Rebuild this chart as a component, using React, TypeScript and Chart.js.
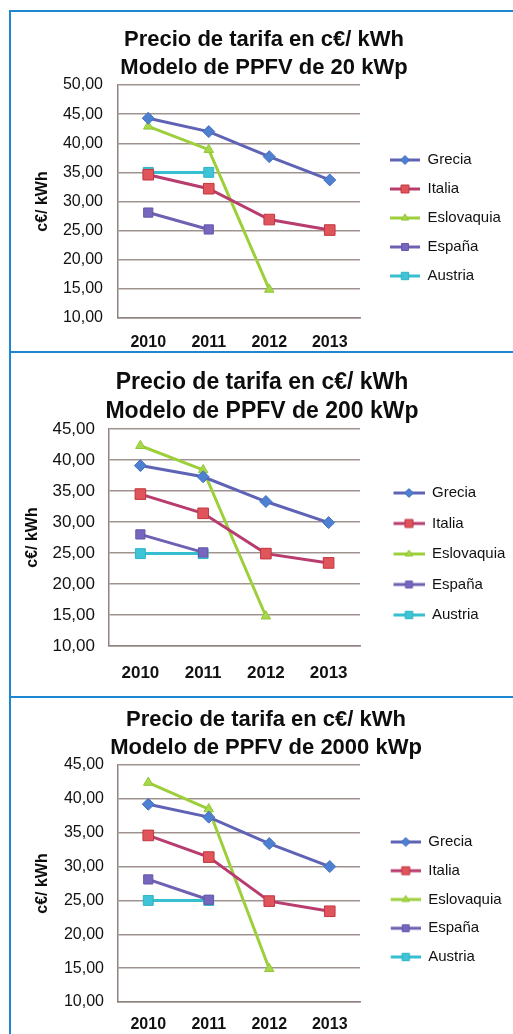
import React, { useEffect, useRef } from 'react';
import { Chart, registerables } from 'chart.js';

Chart.register(...registerables);

// ---------- data ----------
const years = ['2010', '2011', '2012', '2013'];
const seriesNames = ['Grecia', 'Italia', 'Eslovaquia', 'España', 'Austria'];
const titleLine1 = 'Precio de tarifa en c€/ kWh';
const yAxisTitle = 'c€/ kWh';

const title20 = 'Modelo de PPFV de 20 kWp';
const grecia20 = [44.3, 42.0, 37.7, 33.7];
const italia20 = [34.6, 32.2, 26.9, 25.1];
const eslovaquia20 = [42.9, 38.9, 14.9, null];
const espana20 = [28.1, 25.2, null, null];
const austria20 = [35.0, 35.0, null, null];

const title200 = 'Modelo de PPFV de 200 kWp';
const grecia200 = [39.1, 37.3, 33.3, 29.9];
const italia200 = [34.5, 31.4, 24.9, 23.4];
const eslovaquia200 = [42.3, 38.4, 14.8, null];
const espana200 = [28.0, 25.1, null, null];
const austria200 = [24.9, 24.9, null, null];

const title2000 = 'Modelo de PPFV de 2000 kWp';
const grecia2000 = [39.2, 37.3, 33.4, 30.0];
const italia2000 = [34.6, 31.4, 24.9, 23.4];
const eslovaquia2000 = [42.4, 38.5, 14.9, null];
const espana2000 = [28.1, 25.1, null, null];
const austria2000 = [25.0, 25.0, null, null];

// ---------- styles ----------
const FONT = "'Liberation Sans', Arial, sans-serif";
const BORDER_BLUE = '#1f86d1';
const GRID = '#a0938f';

type SeriesStyle = { line: string; fill: string; stroke: string; point: string; r: number };
const seriesStyles: SeriesStyle[] = [
  { line: '#5f63b5', fill: '#4d80d0', stroke: '#4670c0', point: 'rectRot', r: 6 },
  { line: '#b83c6e', fill: '#e0555b', stroke: '#c2353f', point: 'rect', r: 7.5 },
  { line: '#9dcf3b', fill: '#a6d84a', stroke: '#92c636', point: 'triangle', r: 5.5 },
  { line: '#6f60b1', fill: '#7766bd', stroke: '#6655aa', point: 'rect', r: 6.5 },
  { line: '#35bfcf', fill: '#3ec4d6', stroke: '#2fb3c6', point: 'rect', r: 7 },
];

type PanelCfg = {
  left: number; top: number; width: number; height: number;
  titleLines: string[]; titleSize: number; titleLH: number; titlePadTop: number; titlePadBottom: number;
  yMax: number; yAxisWidth: number; yTitlePad: number; tickSize: number; yTickPad: number;
  xAxisHeight: number; xTickPad: number; xTickSize: number;
  legendMaxWidth: number; legendPad: number; legendIconW: number; legendLineStart: number; legendTitleH: number;
  series: (number | null)[][];
};

function makeIcon(st: SeriesStyle, w: number, lineStart: number): HTMLCanvasElement {
  const h = 16;
  const c = document.createElement('canvas');
  c.width = w;
  c.height = h;
  const ctx = c.getContext('2d')!;
  ctx.strokeStyle = st.line;
  ctx.lineWidth = 3;
  ctx.beginPath();
  ctx.moveTo(lineStart, h / 2);
  ctx.lineTo(w, h / 2);
  ctx.stroke();
  const cx = (lineStart + w) / 2;
  const cy = h / 2;
  const r = st.r * 0.75;
  ctx.fillStyle = st.fill;
  ctx.strokeStyle = st.stroke;
  ctx.lineWidth = 1;
  ctx.beginPath();
  if (st.point === 'rectRot') {
    ctx.moveTo(cx, cy - r);
    ctx.lineTo(cx + r, cy);
    ctx.lineTo(cx, cy + r);
    ctx.lineTo(cx - r, cy);
    ctx.closePath();
  } else if (st.point === 'triangle') {
    ctx.moveTo(cx, cy - r);
    ctx.lineTo(cx + r * 0.87, cy + r * 0.5);
    ctx.lineTo(cx - r * 0.87, cy + r * 0.5);
    ctx.closePath();
  } else {
    const s = r * Math.SQRT1_2;
    ctx.rect(cx - s, cy - s, 2 * s, 2 * s);
  }
  ctx.fill();
  ctx.stroke();
  return c;
}

function ChartPanel({ cfg }: { cfg: PanelCfg }) {
  const ref = useRef<HTMLCanvasElement | null>(null);
  useEffect(() => {
    if (!ref.current) return;
    const icons = seriesStyles.map((st) => makeIcon(st, cfg.legendIconW, cfg.legendLineStart));
    const chart = new Chart(ref.current, {
      type: 'line',
      data: {
        labels: years,
        datasets: seriesNames.map((name, i) => ({
          label: name,
          data: cfg.series[i],
          borderColor: seriesStyles[i].line,
          backgroundColor: seriesStyles[i].fill,
          borderWidth: 3,
          pointStyle: seriesStyles[i].point as any,
          pointRadius: seriesStyles[i].r,
          pointBackgroundColor: seriesStyles[i].fill,
          pointBorderColor: seriesStyles[i].stroke,
          pointBorderWidth: 1,
          tension: 0,
          spanGaps: false,
        })),
      },
      options: {
        responsive: false,
        animation: false,
        events: [],
        layout: { padding: 0 },
        plugins: {
          tooltip: { enabled: false },
          title: {
            display: true,
            text: cfg.titleLines,
            color: '#0d0d0d',
            align: 'center',
            font: { family: FONT, size: cfg.titleSize, weight: 'bold', lineHeight: cfg.titleLH / cfg.titleSize },
            padding: { top: cfg.titlePadTop, bottom: cfg.titlePadBottom },
          },
          legend: {
            display: true,
            position: 'right',
            fullSize: false,
            align: 'center',
            maxWidth: cfg.legendMaxWidth,
            title: {
              display: true,
              text: ' ',
              font: { family: FONT, size: 10, lineHeight: 1 },
              padding: { top: cfg.legendTitleH - 10, bottom: 0 },
            },
            labels: {
              font: { family: FONT, size: 15 },
              color: '#111',
              padding: cfg.legendPad,
              usePointStyle: true,
              pointStyleWidth: cfg.legendIconW,
              generateLabels: (ch: any) =>
                ch.data.datasets.map((ds: any, i: number) => ({
                  text: ds.label,
                  pointStyle: icons[i],
                  fillStyle: seriesStyles[i].fill,
                  strokeStyle: seriesStyles[i].line,
                  lineWidth: 0,
                  hidden: false,
                  datasetIndex: i,
                  fontColor: '#111',
                })),
            },
          },
        },
        scales: {
          x: {
            type: 'category',
            offset: true,
            grid: { display: false, drawTicks: false },
            border: { display: true, color: '#8f8280', width: 1.5 },
            ticks: {
              color: '#111',
              padding: cfg.xTickPad,
              font: { family: FONT, size: cfg.xTickSize, weight: 'bold' },
              maxRotation: 0,
            },
            afterFit: (s: any) => {
              s.height = cfg.xAxisHeight;
            },
          },
          y: {
            min: 10,
            max: cfg.yMax,
            grid: { color: GRID, lineWidth: 1.5, drawTicks: false },
            border: { display: true, color: '#8f8280', width: 1.5 },
            ticks: {
              stepSize: 5,
              color: '#111',
              padding: cfg.yTickPad,
              font: { family: FONT, size: cfg.tickSize },
              callback: (v: any) => Number(v).toFixed(2).replace('.', ','),
            },
            title: {
              display: true,
              text: yAxisTitle,
              color: '#0d0d0d',
              font: { family: FONT, size: 16, weight: 'bold' },
              padding: { top: cfg.yTitlePad, bottom: 0 },
            },
            afterFit: (s: any) => {
              s.width = cfg.yAxisWidth;
            },
          },
        },
      } as any,
    });
    return () => chart.destroy();
  }, [cfg]);
  return (
    <canvas
      ref={ref}
      width={cfg.width}
      height={cfg.height}
      style={{ position: 'absolute', left: cfg.left, top: cfg.top, width: cfg.width, height: cfg.height, display: 'block' }}
    />
  );
}

const panel20: PanelCfg = {
  left: 20, top: 12, width: 488, height: 338,
  titleLines: [titleLine1, title20], titleSize: 22, titleLH: 28, titlePadTop: 14, titlePadBottom: 3,
  yMax: 50, yAxisWidth: 98, yTitlePad: 13.4, tickSize: 16, yTickPad: 15,
  xAxisHeight: 32, xTickPad: 15.4, xTickSize: 16,
  legendMaxWidth: 148, legendPad: 14, legendIconW: 46, legendLineStart: 16, legendTitleH: 33,
  series: [grecia20, italia20, eslovaquia20, espana20, austria20],
};

const panel200: PanelCfg = {
  left: 14, top: 355, width: 496, height: 339,
  titleLines: [titleLine1, title200], titleSize: 23, titleLH: 29, titlePadTop: 13.5, titlePadBottom: 2.5,
  yMax: 45, yAxisWidth: 95, yTitlePad: 9.4, tickSize: 17, yTickPad: 14,
  xAxisHeight: 48, xTickPad: 16.8, xTickSize: 17,
  legendMaxWidth: 150, legendPad: 15.5, legendIconW: 49, legendLineStart: 18, legendTitleH: 33,
  series: [grecia200, italia200, eslovaquia200, espana200, austria200],
};

const panel2000: PanelCfg = {
  left: 24, top: 699, width: 484, height: 335,
  titleLines: [titleLine1, title2000], titleSize: 22, titleLH: 28, titlePadTop: 7, titlePadBottom: 3,
  yMax: 45, yAxisWidth: 94, yTitlePad: 9.4, tickSize: 16, yTickPad: 14,
  xAxisHeight: 32, xTickPad: 13.4, xTickSize: 16,
  legendMaxWidth: 148, legendPad: 13.75, legendIconW: 47, legendLineStart: 17, legendTitleH: 32,
  series: [grecia2000, italia2000, eslovaquia2000, espana2000, austria2000],
};

export default function App() {
  const line = (style: React.CSSProperties) => (
    <div style={{ position: 'absolute', background: BORDER_BLUE, ...style }} />
  );
  return (
    <div
      style={{
        position: 'absolute',
        left: 0,
        top: 0,
        width: 513,
        height: 1034,
        overflow: 'hidden',
        background: '#ffffff',
        fontFamily: FONT,
      }}
    >
      {line({ left: 9, top: 10, width: 504, height: 2 })}
      {line({ left: 9, top: 10, width: 2, height: 1024 })}
      {line({ left: 9, top: 351, width: 504, height: 2 })}
      {line({ left: 9, top: 696, width: 504, height: 2 })}
      <ChartPanel cfg={panel20} />
      <ChartPanel cfg={panel200} />
      <ChartPanel cfg={panel2000} />
    </div>
  );
}
